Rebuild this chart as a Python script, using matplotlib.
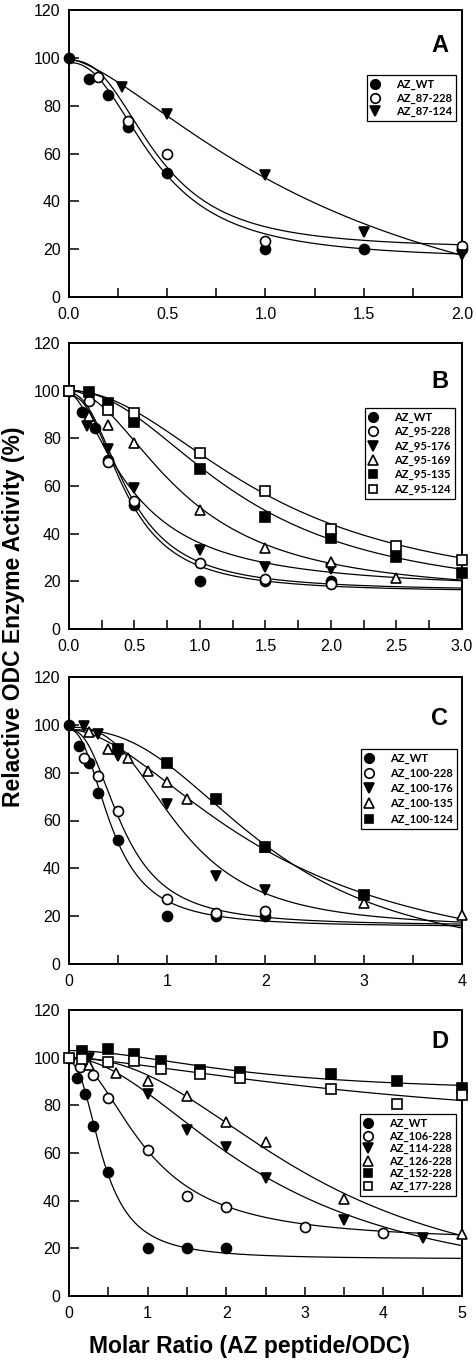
import numpy as np
import matplotlib
matplotlib.use("Agg")
import matplotlib.pyplot as plt
from matplotlib.ticker import MultipleLocator, FormatStrFormatter
from matplotlib.lines import Line2D

# ---------------- data ----------------
# Panel A
A_labels = ["AZ_WT", "AZ_87-228", "AZ_87-124"]
A_x = [[0, 0.1, 0.2, 0.3, 0.5, 1.0, 1.5, 2.0],
       [0.15, 0.3, 0.5, 1.0, 2.0],
       [0.27, 0.5, 1.0, 1.5, 2.0]]
A_y = [[100, 91, 84.5, 71, 52, 20, 20, 20],
       [92, 73.7, 59.6, 23.3, 21.3],
       [88, 76.5, 51, 27, 17.5]]
# fitted curve parameters (bottom, top, IC50, Hill slope)
A_fit = [(15.5, 98, 0.44, 2.3), (20, 99, 0.448, 2.5), (-30, 99.5, 1.377, 1.47)]

# Panel B
B_labels = ["AZ_WT", "AZ_95-228", "AZ_95-176", "AZ_95-169", "AZ_95-135", "AZ_95-124"]
B_x = [[0, 0.1, 0.2, 0.3, 0.5, 1.0, 1.5, 2.0],
       [0, 0.15, 0.3, 0.5, 1.0, 1.5, 2.0],
       [0, 0.14, 0.3, 0.5, 1.0, 1.5, 2.0],
       [0, 0.15, 0.3, 0.5, 1.0, 1.5, 2.0, 2.5],
       [0, 0.15, 0.3, 0.5, 1.0, 1.5, 2.0, 2.5, 3.0],
       [0, 0.3, 0.5, 1.0, 1.5, 2.0, 2.5, 3.0]]
B_y = [[100, 91, 84.5, 71, 52, 20, 20, 20],
       [100, 95.7, 70, 53.5, 27.5, 21, 19],
       [100, 85, 75.5, 59, 33, 26, 25],
       [100, 89.5, 85.5, 78, 50, 34, 28, 21.5],
       [100, 99.5, 95, 87, 67, 47, 38, 30, 23.3],
       [100, 92, 90.5, 73.7, 58, 42, 35, 29]]
B_fit = [(15.5, 98, 0.44, 2.3), (16, 99, 0.454, 2.25), (16, 99, 0.493, 1.62),
         (14, 100, 0.87, 2.02), (12, 100, 1.306, 2.1), (12, 100, 1.517, 2.02)]

# Panel C
C_labels = ["AZ_WT", "AZ_100-228", "AZ_100-176", "AZ_100-135", "AZ_100-124"]
C_x = [[0, 0.1, 0.2, 0.3, 0.5, 1.0, 1.5, 2.0],
       [0.15, 0.3, 0.5, 1.0, 1.5, 2.0],
       [0.15, 0.3, 0.5, 1.0, 1.5, 2.0],
       [0.2, 0.4, 0.6, 0.8, 1.0, 1.2, 2.0, 3.0, 4.0],
       [0.5, 1.0, 1.5, 2.0, 3.0]]
C_y = [[100, 91, 84, 71.5, 52, 20, 20, 20],
       [86, 78.6, 63.8, 27.2, 21.3, 22.3],
       [99.5, 96, 87, 67, 37, 31],
       [97, 90, 86, 80.5, 76, 69, 49, 25.5, 20.3],
       [90, 84, 69, 48.8, 29]]
C_fit = [(15.5, 98, 0.44, 2.3), (16, 98, 0.55, 2.4), (15, 99, 1.13, 2.75),
         (-5, 98, 2.05, 1.8), (0, 98, 2.02, 2.5)]

# Panel D
D_labels = ["AZ_WT", "AZ_106-228", "AZ_114-228", "AZ_126-228", "AZ_152-228", "AZ_177-228"]
D_x = [[0, 0.1, 0.2, 0.3, 0.5, 1.0, 1.5, 2.0],
       [0, 0.14, 0.3, 0.5, 1.0, 1.5, 2.0, 3.0, 4.0],
       [0.25, 1.0, 1.5, 2.0, 2.5, 3.5, 4.5],
       [0.25, 0.6, 1.0, 1.5, 2.0, 2.5, 3.5, 5.0],
       [0.17, 0.5, 0.83, 1.17, 1.67, 2.17, 3.33, 4.17, 5.0],
       [0, 0.17, 0.5, 0.83, 1.17, 1.67, 2.17, 3.33, 4.17, 5.0]]
D_y = [[100, 91.3, 84.8, 71.4, 52.2, 20, 20, 20],
       [100, 96.2, 92.6, 83.2, 61.2, 42, 37.3, 29, 26.3],
       [100, 84.8, 69.5, 62.7, 49.4, 32, 24.3],
       [97, 93.5, 90.4, 84.1, 73.2, 64.5, 40.6, 26],
       [103, 103.8, 101.5, 98.6, 94.8, 94.1, 93, 90.4, 87.2],
       [100, 99.6, 98.3, 98.8, 95.4, 93.2, 91.6, 86.9, 80.7, 84.4]]
D_fit = [(15.5, 98, 0.44, 2.3), (23, 100, 0.9875, 2.05), (0, 100, 2.5, 1.9),
         (0, 100, 3.09, 2.25), (85, 103, 2.26, 1.85), (65, 100, 4.8, 1.4)]

panel_letters = ["A", "B", "C", "D"]
x_max = [2.0, 3.0, 4.0, 5.0]
x_major = [0.5, 0.5, 1.0, 1.0]
x_minor = [0.25, 0.25, 0.5, 0.5]
x_fmt = ["%.1f", "%.1f", "%d", "%d"]

# ---------------- style ----------------
marker_styles = {
    "A": [("o", True), ("o", False), ("v", True)],
    "B": [("o", True), ("o", False), ("v", True), ("^", False), ("s", True), ("s", False)],
    "C": [("o", True), ("o", False), ("v", True), ("^", False), ("s", True)],
    "D": [("o", True), ("o", False), ("v", True), ("^", False), ("s", True), ("s", False)],
}
msize = {"o": 7.2, "v": 7.8, "^": 7.8, "s": 6.6}


def hill(x, bottom, top, ic50, n):
    x = np.asarray(x, dtype=float)
    return bottom + (top - bottom) / (1.0 + (x / ic50) ** n)


W, H = 477, 1363
fig = plt.figure(figsize=(W / 100, H / 100), dpi=100)

panel_px = [(10, 297), (343, 629), (677, 964), (1010, 1296)]
left_px, right_px = 69, 462
legend_anchor = [(0.985, 0.774), (0.982, 0.773), (0.987, 0.749), (0.985, 0.636)]
legend_spacing = [0.23, 0.29, 0.36, 0.13]
letter_pos = [(0.944, 0.878), (0.944, 0.865), (0.944, 0.857), (0.944, 0.89)]

panels = [(A_labels, A_x, A_y, A_fit), (B_labels, B_x, B_y, B_fit),
          (C_labels, C_x, C_y, C_fit), (D_labels, D_x, D_y, D_fit)]

for i, (labels, xs, ys, fits) in enumerate(panels):
    top_px, bot_px = panel_px[i]
    ax = fig.add_axes([left_px / W, 1 - bot_px / H, (right_px - left_px) / W,
                       (bot_px - top_px) / H])
    letter = panel_letters[i]
    styles = marker_styles[letter]
    xx = np.linspace(0, x_max[i], 400)
    for (b, t, c, n) in fits:
        ax.plot(xx, hill(xx, b, t, c, n), color="black", lw=0.9, zorder=2)
    handles = []
    for j, lab in enumerate(labels):
        m, filled = styles[j]
        fc = "black" if filled else "white"
        ax.plot(xs[j], ys[j], ls="none", marker=m, ms=msize[m], mfc=fc, mec="black",
                mew=1.2, zorder=3 + j, clip_on=False)
        handles.append(Line2D([], [], ls="none", marker=m, ms=msize[m] * 0.95, mfc=fc,
                              mec="black", mew=1.2))
    ax.set_xlim(0, x_max[i])
    ax.set_ylim(0, 120)
    ax.xaxis.set_major_locator(MultipleLocator(x_major[i]))
    ax.xaxis.set_minor_locator(MultipleLocator(x_minor[i]))
    ax.xaxis.set_major_formatter(FormatStrFormatter(x_fmt[i]))
    ax.yaxis.set_major_locator(MultipleLocator(20))
    ax.tick_params(axis="x", which="both", direction="in", length=6.3, width=1.1,
                   labelsize=11.5, pad=7)
    ax.tick_params(axis="y", which="both", direction="in", length=7.5, width=1.1,
                   labelsize=11.5, pad=6)
    ax.tick_params(top=False, right=False)
    for lbl in ax.get_xticklabels() + ax.get_yticklabels():
        lbl.set_fontfamily("Liberation Sans")
    for sp in ax.spines.values():
        sp.set_linewidth(1.4)
    ax.text(letter_pos[i][0], letter_pos[i][1], letter, transform=ax.transAxes,
            ha="center", va="center", fontsize=17, fontweight="bold",
            family="Liberation Sans")
    leg = ax.legend(handles, labels, loc="upper right", bbox_to_anchor=legend_anchor[i],
                    borderaxespad=0, frameon=True, fancybox=False, framealpha=1,
                    edgecolor="black", handlelength=0.7, handletextpad=1.56,
                    borderpad=0.35, labelspacing=legend_spacing[i],
                    prop={"family": "Lato", "size": 8, "weight": "bold"})
    leg.get_frame().set_linewidth(0.9)
    leg.set_zorder(20)

fig.text(13.5 / W, 1 - 617 / H, "Relactive ODC Enzyme Activity (%)", rotation=90,
         ha="center", va="center", fontsize=16.5, fontweight="bold",
         family="Liberation Sans")
fig.text(249 / W, 17 / H, "Molar Ratio (AZ peptide/ODC)", ha="center", va="center",
         fontsize=16.5, fontweight="bold", family="Liberation Sans")

fig.savefig("out.png", dpi=100)
